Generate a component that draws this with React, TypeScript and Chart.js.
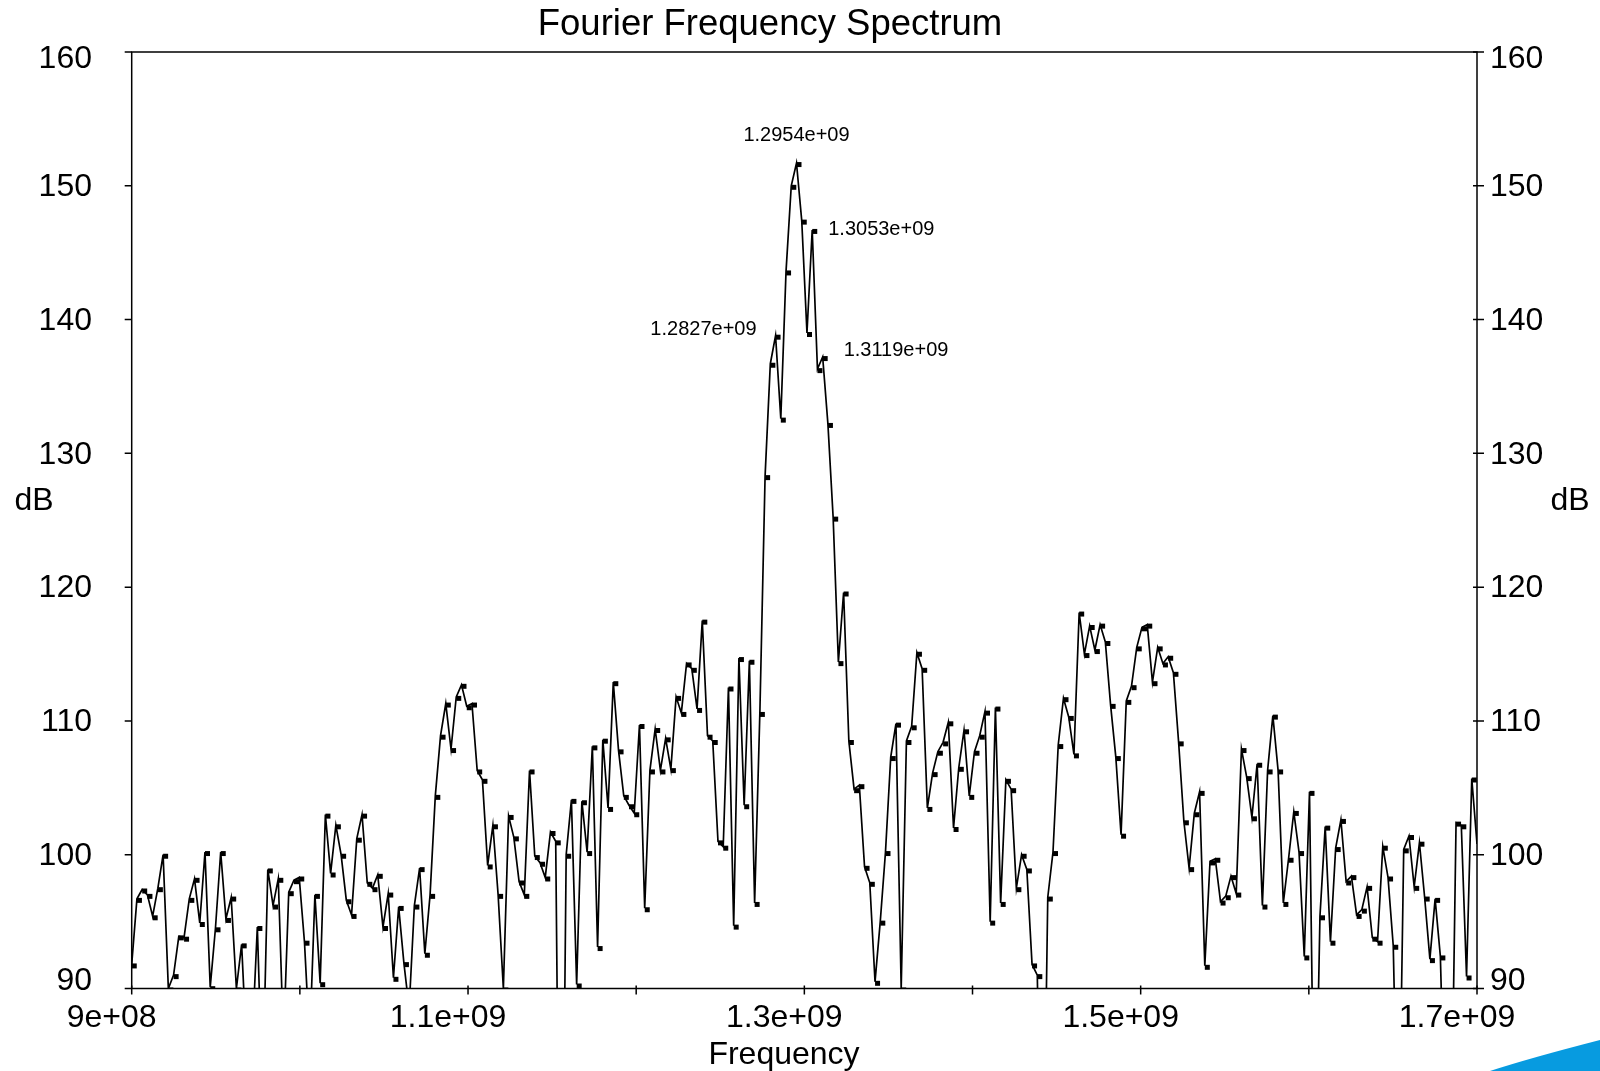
import React, { useEffect, useRef } from "react";
import { Chart, registerables } from "chart.js";

Chart.register(...registerables);

// ---- data ----
const FREQ_START = 9e8;
const FREQ_END = 1.7e9;

// spectrum magnitude (dB), one value per frequency bin (uniform bins from FREQ_START to FREQ_END)
const DB_VALUES: number[] = [
  91.8, 96.7, 97.4, 97.0, 95.4, 97.5, 100.0, 90.0, 91.0, 93.9,
  93.8, 96.7, 98.2, 94.9, 100.2, 90.1, 94.5, 100.2, 95.2, 96.8,
  90.0, 93.3, 85.0, 86.0, 94.6, 82.0, 98.9, 96.2, 98.2, 86.0,
  97.2, 98.1, 98.3, 93.5, 86.0, 97.0, 90.4, 103.0, 98.6, 102.2,
  100.0, 96.6, 95.5, 101.2, 103.0, 97.9, 97.5, 98.5, 94.6, 97.1,
  90.8, 96.1, 91.9, 88.5, 96.2, 99.0, 92.6, 97.0, 104.4, 108.9,
  111.3, 107.9, 111.8, 112.7, 111.1, 111.3, 106.3, 105.6, 99.2, 102.2,
  97.0, 90.0, 102.9, 101.3, 98.0, 97.0, 106.3, 99.9, 99.4, 98.3,
  101.7, 101.0, 60.0, 100.0, 104.1, 90.3, 104.0, 100.2, 108.1, 93.1,
  108.6, 103.5, 112.9, 107.8, 104.4, 103.7, 103.1, 109.7, 96.0, 106.3,
  109.4, 106.3, 108.7, 106.4, 111.8, 110.6, 114.3, 113.9, 110.9, 117.5,
  108.9, 108.5, 101.0, 100.6, 112.5, 94.7, 114.7, 103.7, 114.5, 96.4,
  110.6, 128.3, 136.7, 138.8, 132.6, 143.6, 150.0, 151.7, 147.4, 139.0,
  146.7, 136.3, 137.2, 132.2, 125.2, 114.4, 119.6, 108.5, 104.9, 105.2,
  99.1, 97.9, 90.5, 95.0, 100.2, 107.3, 109.8, 90.0, 108.5, 109.6,
  115.1, 113.9, 103.5, 106.1, 107.7, 108.4, 109.9, 102.0, 106.5, 109.3,
  104.4, 107.7, 108.9, 110.7, 95.0, 111.0, 96.4, 105.6, 104.9, 97.5,
  100.0, 98.9, 91.8, 91.0, 70.0, 96.8, 100.2, 108.2, 111.7, 110.3,
  107.5, 118.1, 115.0, 117.1, 115.3, 117.2, 115.9, 111.2, 107.3, 101.5,
  111.5, 112.6, 115.5, 117.0, 117.2, 112.9, 115.5, 114.3, 114.8, 113.6,
  108.4, 102.5, 99.0, 103.1, 104.7, 91.7, 99.5, 99.7, 96.5, 96.9,
  98.4, 97.1, 107.9, 105.8, 102.8, 106.8, 96.2, 106.3, 110.4, 106.3,
  96.4, 99.7, 103.2, 100.2, 92.4, 104.7, 75.0, 95.4, 102.1, 93.5,
  100.5, 102.6, 98.0, 98.4, 95.5, 95.9, 97.6, 93.8, 93.5, 100.6,
  98.3, 93.2, 75.0, 100.4, 101.4, 97.6, 100.9, 96.8, 92.2, 96.7,
  92.4, 78.0, 76.0, 102.4, 102.2, 90.9, 105.7, 100.8,
];

const X_TICKS: number[] = [9e8, 1e9, 1.1e9, 1.2e9, 1.3e9, 1.4e9, 1.5e9, 1.6e9, 1.7e9];
const X_LABEL_VALUES: number[] = [9e8, 1.1e9, 1.3e9, 1.5e9, 1.7e9];
const X_LABEL_TEXTS: string[] = ["9e+08", "1.1e+09", "1.3e+09", "1.5e+09", "1.7e+09"];
const Y_TICKS: number[] = [90, 100, 110, 120, 130, 140, 150, 160];

const PEAK_INDICES: number[] = [127, 130, 123, 132];
const PEAK_TEXTS: string[] = ["1.2954e+09", "1.3053e+09", "1.2827e+09", "1.3119e+09"];

const TITLE = "Fourier Frequency Spectrum";
const X_TITLE = "Frequency";
const Y_TITLE = "dB";

const FONT = '"Liberation Sans", Arial, Helvetica, sans-serif';

export default function App() {
  const ref = useRef<HTMLCanvasElement | null>(null);

  useEffect(() => {
    document.body.style.margin = "0";
    document.body.style.overflow = "hidden";
    const canvas = ref.current;
    if (!canvas) return;

    const step = (FREQ_END - FREQ_START) / (DB_VALUES.length - 1);
    const points = DB_VALUES.map((v, i) => ({ x: FREQ_START + i * step, y: v }));

    // square marker whose top-left corner sits on the data point
    const marker = document.createElement("canvas");
    marker.width = 14;
    marker.height = 14;
    const mctx = marker.getContext("2d");
    if (mctx) {
      mctx.fillStyle = "#000";
      mctx.fillRect(7, 6, 5, 5);
    }

    const decor = {
      id: "decor",
      afterDraw(chart: any) {
        const { ctx, chartArea: a } = chart;
        const xs = chart.scales.x;
        const ys = chart.scales.y;
        ctx.save();
        ctx.strokeStyle = "#000";
        ctx.fillStyle = "#000";
        ctx.lineWidth = 1.5;
        ctx.strokeRect(a.left, a.top, a.right - a.left, a.bottom - a.top);

        ctx.beginPath();
        for (const v of Y_TICKS) {
          const py = ys.getPixelForValue(v);
          ctx.moveTo(a.left - 7, py);
          ctx.lineTo(a.left, py);
          ctx.moveTo(a.right - 4, py);
          ctx.lineTo(a.right + 7, py);
        }
        for (const v of X_TICKS) {
          const px = xs.getPixelForValue(v);
          ctx.moveTo(px, a.bottom - 3);
          ctx.lineTo(px, a.bottom + 6);
        }
        ctx.stroke();

        ctx.font = `32px ${FONT}`;
        ctx.textBaseline = "middle";
        for (const v of Y_TICKS) {
          let py = ys.getPixelForValue(v);
          py = Math.min(Math.max(py, a.top + 6), a.bottom - 9) + 1.5;
          ctx.textAlign = "right";
          ctx.fillText(String(v), 92, py);
          ctx.textAlign = "left";
          ctx.fillText(String(v), a.right + 13, py);
        }
        ctx.textAlign = "center";
        X_LABEL_VALUES.forEach((v, i) => {
          const px = xs.getPixelForValue(v);
          ctx.fillText(X_LABEL_TEXTS[i], px - 20, 1018);
        });

        ctx.fillText(X_TITLE, 784, 1055);
        ctx.fillText(Y_TITLE, 34, 501);
        ctx.fillText(Y_TITLE, 1570, 501);
        ctx.font = `36.5px ${FONT}`;
        ctx.fillText(TITLE, 770, 25);

        ctx.font = `20px ${FONT}`;
        const offs = [
          { dx: 0, dy: -28, align: "center" },
          { dx: 16, dy: 0, align: "left" },
          { dx: -19, dy: -6, align: "right" },
          { dx: 21, dy: -7, align: "left" },
        ];
        PEAK_INDICES.forEach((idx, i) => {
          const p = points[idx];
          const px = xs.getPixelForValue(p.x);
          const py = ys.getPixelForValue(p.y);
          ctx.textAlign = offs[i].align;
          ctx.fillText(PEAK_TEXTS[i], px + offs[i].dx, py + offs[i].dy);
        });

        // blue corner swoosh
        ctx.fillStyle = "#079be0";
        ctx.beginPath();
        ctx.moveTo(1490, 1071);
        ctx.quadraticCurveTo(1530, 1058, 1600, 1040);
        ctx.lineTo(1600, 1071);
        ctx.closePath();
        ctx.fill();
        ctx.restore();
      },
    };

    const chart = new Chart(canvas, {
      type: "line",
      data: {
        datasets: [
          {
            data: points,
            borderColor: "#000",
            borderWidth: 1.7,
            pointStyle: marker as any,
            pointRadius: 3,
            pointHoverRadius: 3,
            tension: 0,
            fill: false,
          },
        ],
      },
      options: {
        responsive: false,
        animation: false,
        events: [],
        layout: { padding: { left: 131.7, right: 123, top: 52, bottom: 82.5 } },
        plugins: {
          legend: { display: false },
          tooltip: { enabled: false },
          title: { display: false },
        },
        scales: {
          x: { type: "linear", min: FREQ_START, max: FREQ_END, display: false },
          y: { type: "linear", min: 90, max: 160, display: false },
        },
      },
      plugins: [decor],
    });

    return () => chart.destroy();
  }, []);

  return <canvas ref={ref} width={1600} height={1071} style={{ display: "block" }} />;
}
